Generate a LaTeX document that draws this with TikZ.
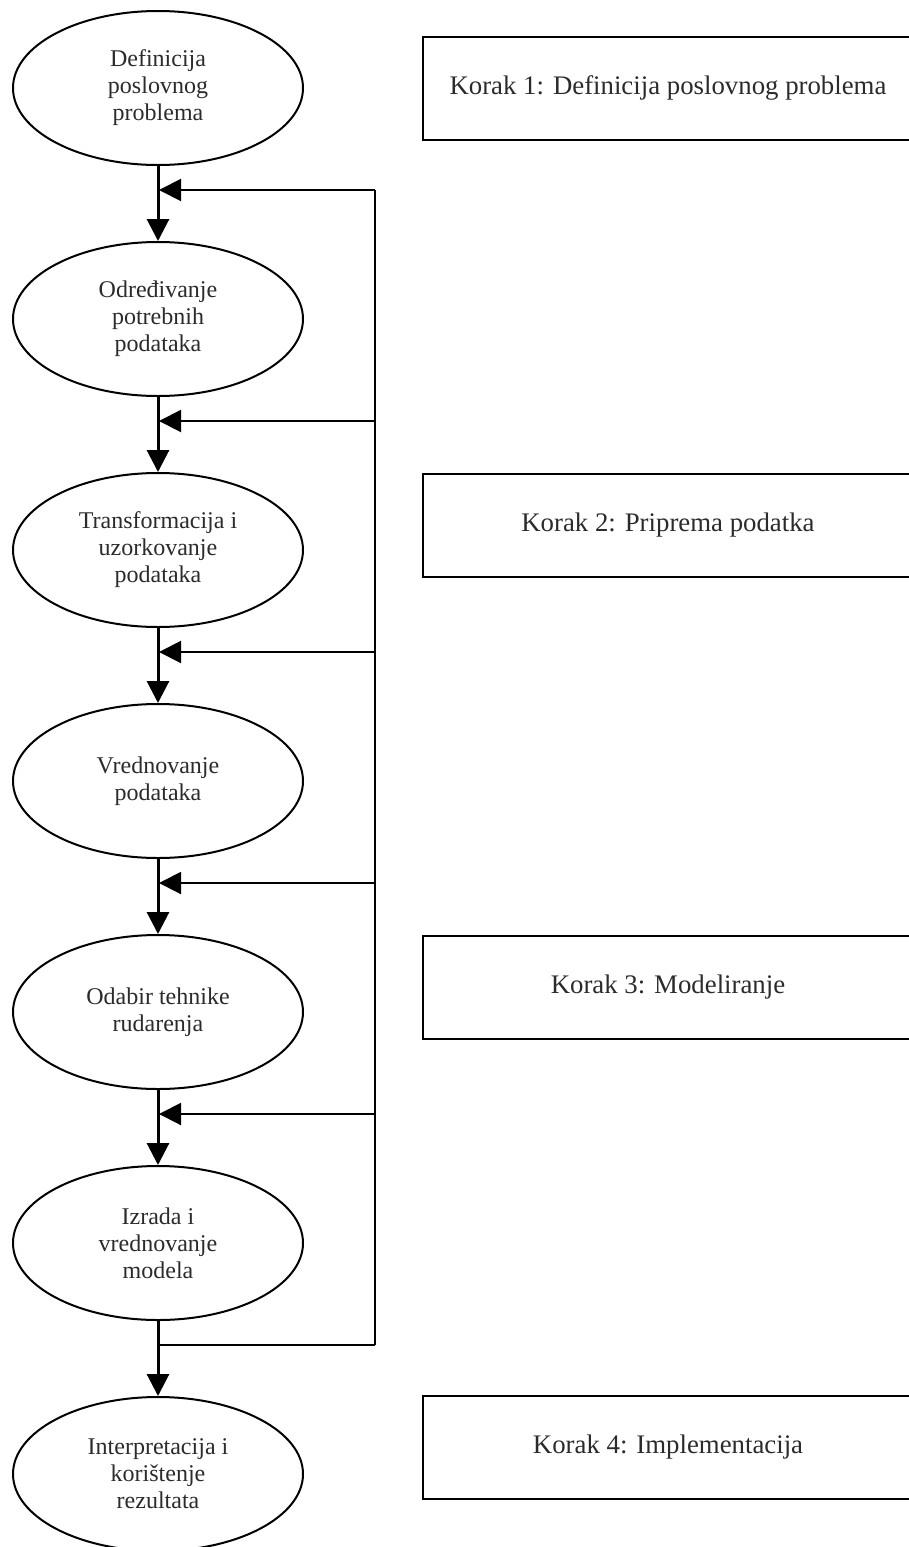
\documentclass[tikz,border=0pt]{standalone}
\usepackage{fontspec}
\setmainfont{Liberation Serif}
\usepackage{tikz}
\usetikzlibrary{arrows.meta,shapes.geometric}
\definecolor{InkGray}{HTML}{2B2B2B}

\begin{document}
\begin{tikzpicture}[
  x=0.5pt, y=-0.5pt,
  phase/.style={draw, ellipse, line width=1pt, minimum width=145pt, minimum height=77pt, inner sep=0pt, align=center, text=InkGray, font=\fontsize{12}{13.5}\selectfont},
  korak/.style={draw, rectangle, line width=1pt, anchor=west, minimum width=245pt, minimum height=51.5pt, inner sep=0pt, text=InkGray, font=\fontsize{13.4}{15}\selectfont},
  flow/.style={line width=1.5pt, -{Triangle[length=11pt,width=11pt]}},
  back/.style={line width=1pt},
  backarr/.style={back, -{Triangle[length=11pt,width=11pt]}}
]
\useasboundingbox (0,0) rectangle (909,1547);
\clip (0,0) rectangle (909,1547);

% phases of the process
\node[phase] (def) at (158,88) {Definicija\\poslovnog\\problema};
\node[phase] (odr) at (158,319) {Određivanje\\potrebnih\\podataka};
\node[phase] (tra) at (158,550) {Transformacija i\\uzorkovanje\\podataka};
\node[phase] (vre) at (158,781) {Vrednovanje\\podataka};
\node[phase] (oda) at (158,1012) {Odabir tehnike\\rudarenja};
\node[phase] (izr) at (158,1243) {Izrada i\\vrednovanje\\modela};
\node[phase] (int) at (158,1474) {Interpretacija i\\korištenje\\rezultata};

% steps
\node[korak] (k1) at (422,88) {Korak 1: Definicija poslovnog problema};
\node[korak] (k2) at (422,525) {Korak 2: Priprema podatka};
\node[korak] (k3) at (422,987) {Korak 3: Modeliranje};
\node[korak] (k4) at (422,1447) {Korak 4: Implementacija};

% main flow
\draw[flow] (def) -- (odr);
\draw[flow] (odr) -- (tra);
\draw[flow] (tra) -- (vre);
\draw[flow] (vre) -- (oda);
\draw[flow] (oda) -- (izr);
\draw[flow] (izr) -- (int);

% feedback loop
\foreach \i/\y in {1/190,2/421,3/652,4/883,5/1114,6/1345}{
  \coordinate (r\i) at (375,\y);
  \coordinate (j\i) at (159,\y);
}
\draw[back] (r1) -- (r6);
\foreach \i in {1,...,5}
  \draw[backarr] (r\i) -- (j\i);
\draw[back] (r6) -- (j6);
\end{tikzpicture}
\end{document}
